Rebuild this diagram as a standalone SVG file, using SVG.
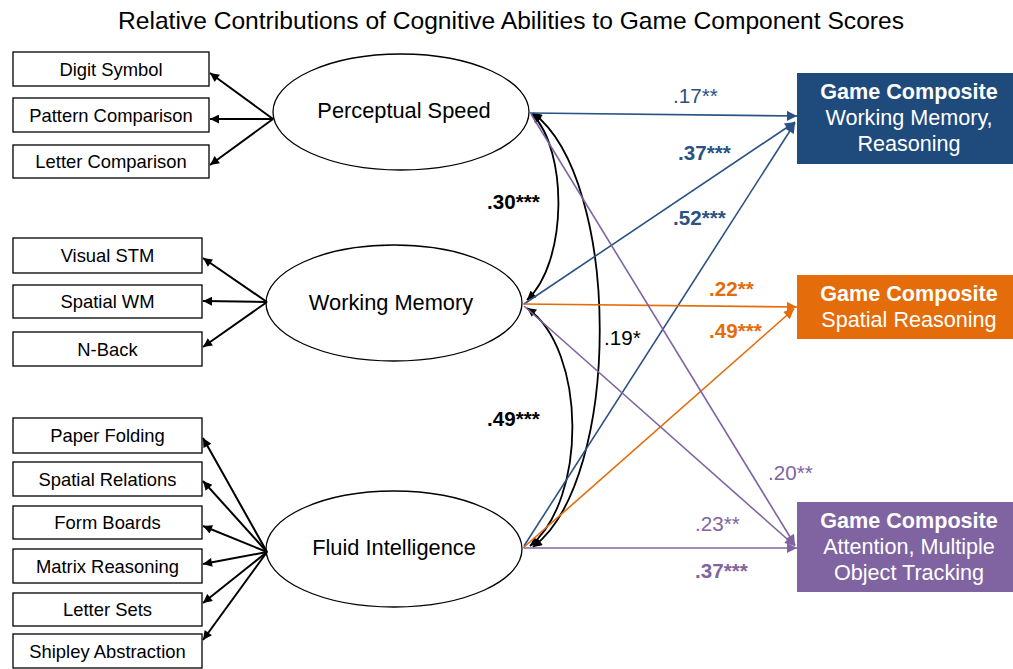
<svg xmlns="http://www.w3.org/2000/svg" width="1013" height="669" viewBox="0 0 1013 669">
  <style>
    text { font-family: "Liberation Sans", Arial, Helvetica, sans-serif; }
    .title { font-size: 24.6px; fill: #000; text-anchor: middle; }
    .obs rect { fill: #fff; stroke: #000; stroke-width: 1.3; }
    .obs text { font-size: 18.4px; text-anchor: middle; fill: #000; }
    .lat ellipse { fill: #fff; stroke: #000; stroke-width: 1.3; }
    .lat text { font-size: 21.8px; text-anchor: middle; fill: #000; }
    .comp text { font-size: 21.6px; text-anchor: middle; fill: #fff; }
    .comp .hd { font-weight: bold; }
    .load line { stroke: #000; stroke-width: 2; marker-end: url(#ahBlack); }
    .corr path { fill: none; stroke: #000; stroke-width: 1.8; marker-start: url(#ahBlack); marker-end: url(#ahBlack); }
    .blue { stroke: #2a5283; stroke-width: 1.6; marker-end: url(#ahBlue); }
    .orange { stroke: #e46c0a; stroke-width: 1.6; marker-end: url(#ahOrange); }
    .purple { stroke: #8064a2; stroke-width: 1.6; marker-end: url(#ahPurple); }
    .coef { font-size: 20.6px; }
    .b { font-weight: bold; }
  </style>
  <defs>
    <marker id="ahBlack" viewBox="0 0 10 10" refX="10" refY="5" markerWidth="11" markerHeight="9" markerUnits="userSpaceOnUse" orient="auto-start-reverse">
      <path d="M0,0 L10,5 L0,10 z" fill="#000"/>
    </marker>
    <marker id="ahBlue" viewBox="0 0 10 10" refX="10" refY="5" markerWidth="12" markerHeight="10" markerUnits="userSpaceOnUse" orient="auto">
      <path d="M0,0 L10,5 L0,10 z" fill="#2a5283"/>
    </marker>
    <marker id="ahOrange" viewBox="0 0 10 10" refX="10" refY="5" markerWidth="12" markerHeight="10" markerUnits="userSpaceOnUse" orient="auto">
      <path d="M0,0 L10,5 L0,10 z" fill="#e46c0a"/>
    </marker>
    <marker id="ahPurple" viewBox="0 0 10 10" refX="10" refY="5" markerWidth="12" markerHeight="10" markerUnits="userSpaceOnUse" orient="auto">
      <path d="M0,0 L10,5 L0,10 z" fill="#8064a2"/>
    </marker>
  </defs>

  <rect width="1013" height="669" fill="#fff"/>

  <text class="title" x="511" y="29">Relative Contributions of Cognitive Abilities to Game Component Scores</text>

  <!-- observed measures -->
  <g id="digit-symbol" class="obs"><rect x="13" y="52" width="196" height="34"/><text x="111" y="75.5">Digit Symbol</text></g>
  <g id="pattern-comparison" class="obs"><rect x="13" y="98" width="196" height="34"/><text x="111" y="121.5">Pattern Comparison</text></g>
  <g id="letter-comparison" class="obs"><rect x="13" y="145" width="196" height="33"/><text x="111" y="168">Letter Comparison</text></g>

  <g id="visual-stm" class="obs"><rect x="13" y="238" width="189" height="35"/><text x="107.5" y="262">Visual STM</text></g>
  <g id="spatial-wm" class="obs"><rect x="13" y="285" width="189" height="33"/><text x="107.5" y="308">Spatial WM</text></g>
  <g id="n-back" class="obs"><rect x="13" y="332" width="189" height="34"/><text x="107.5" y="355.5">N-Back</text></g>

  <g id="paper-folding" class="obs"><rect x="13" y="418" width="189" height="35"/><text x="107.5" y="442">Paper Folding</text></g>
  <g id="spatial-relations" class="obs"><rect x="13" y="462" width="189" height="34"/><text x="107.5" y="485.5">Spatial Relations</text></g>
  <g id="form-boards" class="obs"><rect x="13" y="506" width="189" height="33"/><text x="107.5" y="529">Form Boards</text></g>
  <g id="matrix-reasoning" class="obs"><rect x="13" y="549" width="189" height="34"/><text x="107.5" y="572.5">Matrix Reasoning</text></g>
  <g id="letter-sets" class="obs"><rect x="13" y="593" width="189" height="33"/><text x="107.5" y="616">Letter Sets</text></g>
  <g id="shipley-abstraction" class="obs"><rect x="13" y="634" width="189" height="34"/><text x="107.5" y="657.5">Shipley Abstraction</text></g>

  <!-- latent factors -->
  <g id="perceptual-speed" class="lat"><ellipse cx="401" cy="112" rx="128" ry="58"/><text x="404" y="118">Perceptual Speed</text></g>
  <g id="working-memory" class="lat"><ellipse cx="394" cy="303" rx="128" ry="58"/><text x="391" y="310">Working Memory</text></g>
  <g id="fluid-intelligence" class="lat"><ellipse cx="394" cy="549" rx="128" ry="58"/><text x="394" y="555">Fluid Intelligence</text></g>

  <!-- game composites -->
  <g id="composite-wm-reasoning" class="comp">
    <rect x="797" y="73" width="216" height="91" fill="#1f4a7c"/>
    <text class="hd" x="909" y="99">Game Composite</text>
    <text x="909" y="125">Working Memory,</text>
    <text x="909" y="151">Reasoning</text>
  </g>
  <g id="composite-spatial" class="comp">
    <rect x="797" y="275" width="216" height="64" fill="#e46c0a"/>
    <text class="hd" x="909" y="301">Game Composite</text>
    <text x="909" y="327">Spatial Reasoning</text>
  </g>
  <g id="composite-attention" class="comp">
    <rect x="797" y="502" width="216" height="90" fill="#8064a2"/>
    <text class="hd" x="909" y="528">Game Composite</text>
    <text x="909" y="554">Attention, Multiple</text>
    <text x="909" y="580">Object Tracking</text>
  </g>

  <!-- connectors -->
  <g id="connectors">
    <g class="load">
      <line x1="273" y1="119" x2="210" y2="73"/>
      <line x1="273" y1="119" x2="210" y2="119"/>
      <line x1="273" y1="119" x2="210" y2="165"/>
      <line x1="267" y1="302" x2="203" y2="258"/>
      <line x1="267" y1="302" x2="203" y2="301"/>
      <line x1="267" y1="302" x2="203" y2="347"/>
      <line x1="267" y1="552" x2="203" y2="438"/>
      <line x1="267" y1="552" x2="203" y2="481"/>
      <line x1="267" y1="552" x2="203" y2="526"/>
      <line x1="267" y1="552" x2="203" y2="564"/>
      <line x1="267" y1="552" x2="203" y2="603"/>
      <line x1="267" y1="552" x2="203" y2="640"/>
    </g>
    <g class="corr">
      <path d="M532,114 C568,150 568,262 527,300"/>
      <path d="M527,308 C587,350 587,500 530,546"/>
      <path d="M533,113 C622,180 622,480 533,547"/>
    </g>
    <g>
      <line class="blue" x1="530" y1="113" x2="797" y2="116"/>
      <line class="blue" x1="524" y1="304" x2="795" y2="122"/>
      <line class="blue" x1="524" y1="546" x2="795" y2="123"/>
      <line class="orange" x1="523" y1="304" x2="797" y2="307"/>
      <line class="orange" x1="523" y1="548" x2="794" y2="309"/>
      <line class="purple" x1="531" y1="114" x2="795" y2="545"/>
      <line class="purple" x1="524" y1="306" x2="795" y2="546"/>
      <line class="purple" x1="524" y1="548" x2="797" y2="548"/>
    </g>
  </g>

  <!-- coefficients -->
  <g id="coefficients" class="coef">
    <text x="673" y="103" fill="#2a5283">.17**</text>
    <text class="b" x="678" y="160" fill="#2a5283">.37***</text>
    <text class="b" x="673" y="225" fill="#2a5283">.52***</text>
    <text class="b" x="487" y="209" fill="#000">.30***</text>
    <text class="b" x="487" y="426" fill="#000">.49***</text>
    <text x="604" y="345" fill="#000">.19*</text>
    <text class="b" x="709" y="296" fill="#e46c0a">.22**</text>
    <text class="b" x="709" y="338" fill="#e46c0a">.49***</text>
    <text x="768" y="480" fill="#8064a2">.20**</text>
    <text x="695" y="531" fill="#8064a2">.23**</text>
    <text class="b" x="695" y="578" fill="#8064a2">.37***</text>
  </g>
</svg>
